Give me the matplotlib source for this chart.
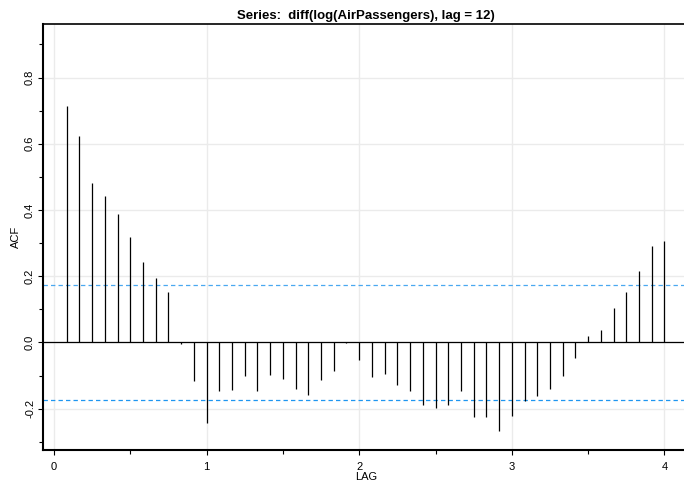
import matplotlib
matplotlib.use("Agg")
import matplotlib.pyplot as plt
import numpy as np

plt.rcParams['font.family'] = ['Liberation Sans', 'DejaVu Sans']

title = "Series:  diff(log(AirPassengers), lag = 12)"
n_obs = 132
acf_values = [0.714, 0.623, 0.481, 0.441, 0.387, 0.319, 0.242, 0.194, 0.153, -0.006,
              -0.117, -0.243, -0.146, -0.143, -0.101, -0.147, -0.098, -0.112, -0.142, -0.159,
              -0.115, -0.086, -0.002, -0.053, -0.105, -0.096, -0.130, -0.146, -0.188, -0.197,
              -0.190, -0.146, -0.224, -0.226, -0.267, -0.223, -0.176, -0.161, -0.141, -0.100,
              -0.046, 0.020, 0.039, 0.103, 0.151, 0.217, 0.290, 0.305]
frequency = 12
x_ticks = [0, 1, 2, 3, 4]
y_ticks = [-0.2, 0.0, 0.2, 0.4, 0.6, 0.8]
y_tick_labels = ["-0.2", "0.0", "0.2", "0.4", "0.6", "0.8"]

lags = np.arange(1, len(acf_values) + 1) / frequency
ci = 2 / np.sqrt(n_obs)

fig = plt.figure(figsize=(6.84, 4.83), dpi=100)
ax = fig.add_axes([42.7 / 684, 33 / 483, (689 - 42.7) / 684, (450 - 24.3) / 483])

ax.set_xlim(-0.074, 4.161)
ax.set_ylim(-0.325, 0.961)

# grid
for gx in x_ticks:
    ax.axvline(gx, color='#EBEBEB', lw=1.0, zorder=0)
for gy in y_ticks:
    ax.axhline(gy, color='#EBEBEB', lw=1.0, zorder=0)

ax.vlines(lags, 0, acf_values, color='black', lw=0.9, zorder=3)
ax.axhline(0, color='black', lw=0.9, zorder=2)
ax.axhline(ci, color='#4AA8F0', lw=0.9, ls=(0, (3.5, 2.5)), zorder=2)
ax.axhline(-ci, color='#1E96F0', lw=0.9, ls=(0, (3.5, 2.5)), zorder=2)

ax.set_xticks(x_ticks)
ax.set_xticks([0.5, 1.5, 2.5, 3.5], minor=True)
ax.set_yticks(y_ticks)
ax.set_yticklabels(y_tick_labels, rotation=90, va='center')
ax.set_yticks([-0.3, -0.1, 0.1, 0.3, 0.5, 0.7, 0.9], minor=True)
ax.tick_params(axis='both', which='major', length=3.5, width=0.8, labelsize=8, pad=2, color='black')
ax.tick_params(axis='both', which='minor', length=3, width=0.8, color='black')
ax.tick_params(axis='x', pad=5)

for side in ['left', 'bottom']:
    ax.spines[side].set_linewidth(1.5)
ax.spines['top'].set_linewidth(1.2)
ax.spines['right'].set_visible(False)

ax.set_xlabel("LAG", fontsize=8, labelpad=0)
ax.set_ylabel("ACF", fontsize=8, labelpad=3)
ax.set_title(title, fontsize=9.5, fontweight='bold', pad=4)

fig.savefig("out.png", dpi=100)
